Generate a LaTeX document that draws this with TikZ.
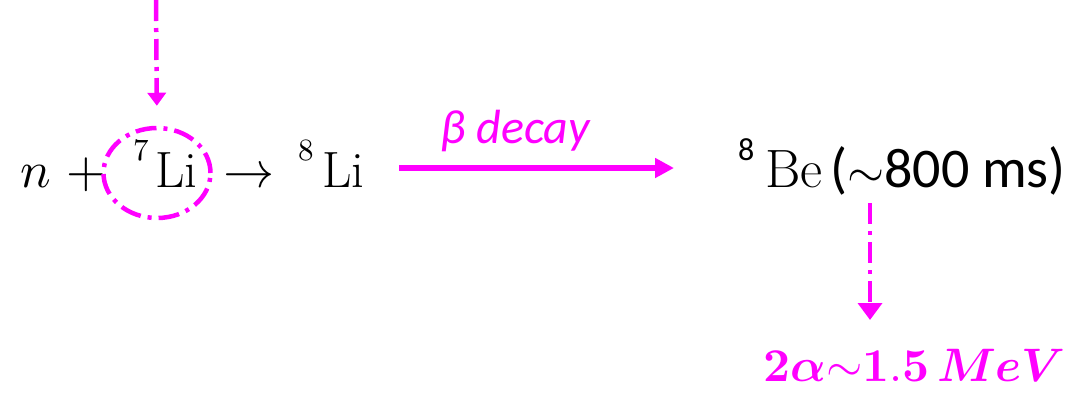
\documentclass[tikz,border=0pt]{standalone}
\usepackage{fontspec}
\usepackage{unicode-math}
\newfontfamily\carl{Carlito}
\usetikzlibrary{arrows.meta,shapes.geometric}
\definecolor{mag}{RGB}{255,0,255}
\begin{document}
\begin{tikzpicture}[x=1pt,y=1pt,
  t/.style={inner sep=0pt, anchor=base west},
  dd/.style={mag, line width=4.5pt, dash pattern=on 21pt off 7pt on 4pt off 7pt},
  ddarrow/.style={dd, -{Triangle[length=#1, width=#1*1.4]}}]
\useasboundingbox (0,0) rectangle (1076,-392);
% left equation
\node[t] (n) at (20,-187) {\fontsize{51}{60}\selectfont $n$};
\node[t] (plus) at (66,-187) {\fontsize{51}{60}\selectfont $+$};
\node[t] (s7) at (133,-160) {\fontsize{31}{36}\selectfont $7$};
\node[t] (li7) at (155,-187) {\fontsize{51}{60}\selectfont Li};
\node[t] (to) at (223,-187) {\fontsize{51}{60}\selectfont $\rightarrow$};
\node[t] (s8) at (298,-160) {\fontsize{31}{36}\selectfont $8$};
\node[t] (li8) at (322,-187) {\fontsize{51}{60}\selectfont Li};
% ring
\node[ellipse, draw, dd, minimum width=107pt, minimum height=90pt, inner sep=0pt] (ring) at (157,-173) {};
\coordinate (top) at (156,0);
\draw[ddarrow=13pt] (top) -- (ring.north) [shorten >=20pt];
% beta decay
\coordinate (ba) at (399,-168);
\coordinate (bb) at (674,-168);
\draw[mag, line width=6pt, -{Triangle[length=19pt, width=19pt]}] (ba) -- (bb);
\node[t, mag] (beta) at (440,-143) {\fontsize{48}{56}\selectfont\carl\itshape β decay};
% Be
\node[t] (s8b) at (738,-160) {\fontsize{32}{38}\selectfont\carl 8};
\node[t] (be) at (765,-187) {\fontsize{54}{60}\selectfont Be};
\node[t] (ms) at (830,-187) {\fontsize{56}{66}\selectfont\carl ({\fontsize{48}{56}\selectfont$\sim$}800 ms)};
% alpha
\coordinate (bs) at (870,-203);
\node[t, mag] (alpha) at (763,-381) {\fontsize{47}{56}\selectfont $\symbf{2}\symbfit{\alpha}{\sim}\symbf{1.5}\,\symbfit{MeV}$};
\coordinate (be2) at (870,-320);
\draw[ddarrow=17pt] (bs) -- (be2);
\end{tikzpicture}
\end{document}
